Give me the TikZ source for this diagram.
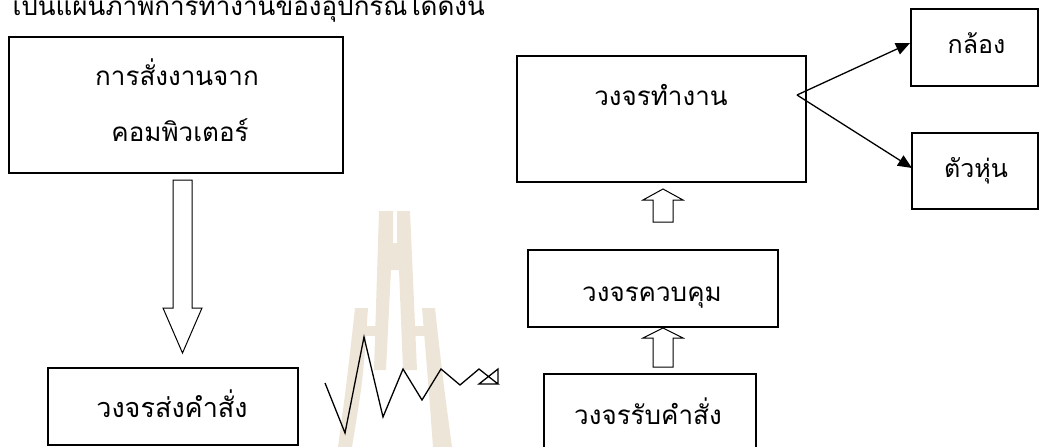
\documentclass[tikz,border=0pt]{standalone}
\usepackage{fontspec}
\setmainfont[Script=Thai]{Loma}
\usetikzlibrary{arrows.meta}
\definecolor{wmark}{RGB}{237,229,216}
\tikzset{
  box/.style={draw=black, line width=1.3pt, fill=none, inner sep=0pt},
  lbl/.style={inner sep=0pt, anchor=base},
  fs/.style={font=\fontsize{#1}{#1}\selectfont},
  blockarrow/.style={draw=black, line width=1pt, fill=white, line join=miter},
  link/.style={draw=black, line width=1.3pt, -{Triangle[length=14pt,width=12pt]}},
  wm/.style={fill=wmark, draw=none}
}
\begin{document}
\begin{tikzpicture}[x=1pt,y=-1pt]
\useasboundingbox (0,0) rectangle (1039,447);
\clip (0,0) rectangle (1039,447);
% watermark
\fill[wm] (355,308) -- (368,308) .. controls (363,380) .. (352,447) -- (338,447) .. controls (347,380) .. (355,308) -- cycle;
\fill[wm] (379,211) -- (393,211) -- (393,243) -- (397,243) -- (397,211) -- (410,211) -- (417,370) -- (403,370) -- (399,270) -- (391,270) -- (386,370) -- (374,370) -- cycle;
\fill[wm] (422,308) -- (435,308) .. controls (443,380) .. (452,447) -- (433,447) .. controls (428,380) .. (422,308) -- cycle;
\fill[wm] (360,326) rectangle (382,336);
\fill[wm] (408,326) rectangle (428,336);
% heading
\node[fs=26, anchor=base east, inner sep=0pt] (head) at (485,16) {เป็นแผนภาพการทำงานของอุปกรณ์ได้ดังนี้};
% boxes
\node[box, minimum width=334pt, minimum height=136pt] (cmd) at (176,105) {};
\node[lbl, fs=26] (cmdt1) at (177,85) {การสั่งงานจาก};
\node[lbl, fs=26] (cmdt2) at (180,141) {คอมพิวเตอร์};
\node[box, minimum width=250pt, minimum height=77pt] (send) at (173,406.5) {};
\node[lbl, fs=27] (sendt) at (172,417) {วงจรส่งคำสั่ง};
\node[box, minimum width=289pt, minimum height=126pt] (work) at (661.5,119) {};
\node[lbl, fs=26] (workt) at (661,105) {วงจรทำงาน};
\node[box, minimum width=250pt, minimum height=77pt] (ctrl) at (653,288.5) {};
\node[lbl, fs=26] (ctrlt) at (652,301) {วงจรควบคุม};
\node[box, minimum width=212pt, minimum height=100pt] (recv) at (650,424) {};
\node[lbl, fs=26] (recvt) at (648,424) {วงจรรับคำสั่ง};
\node[box, minimum width=127pt, minimum height=77pt] (cam) at (974.5,47.5) {};
\node[lbl, fs=25] (camt) at (976.5,53) {กล้อง};
\node[box, minimum width=126pt, minimum height=76pt] (robot) at (975,171) {};
\node[lbl, fs=25] (robott) at (976,177) {ตัวหุ่น};
% block arrows
\draw[blockarrow] (173,180) -- (192,180) -- (192,308) -- (202,308) -- (182.5,353) -- (163,308) -- (173,308) -- cycle;
\draw[blockarrow] (653,222) -- (653,200) -- (643,200) -- (663,189) -- (683,200) -- (673,200) -- (673,222) -- cycle;
\draw[blockarrow] (653,367) -- (653,338) -- (643,338) -- (663,328) -- (683,338) -- (673,338) -- (673,367) -- cycle;
% links
\coordinate (split) at (797,95);
\draw[link] (split) -- (910,43);
\draw[link] (split) -- (912,168);
% zigzag
\draw[line width=1.3pt, line join=miter] (325,383) -- (345,433) -- (364,337) -- (383,417) -- (403,369) -- (422,400) -- (441,369) -- (460,385) -- (479,369) -- (498,384) -- (479,384) -- (498,369) -- (498,384);
\end{tikzpicture}
\end{document}
